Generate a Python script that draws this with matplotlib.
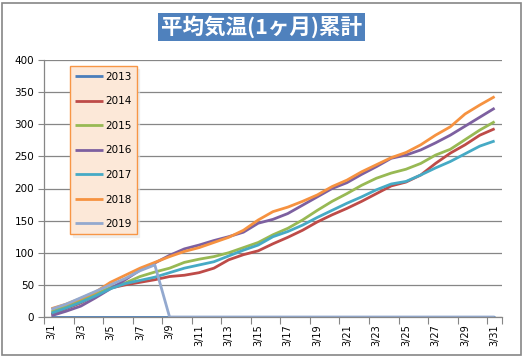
import matplotlib
matplotlib.use('Agg')
import matplotlib.pyplot as plt
from matplotlib.patches import Rectangle

plt.rcParams['font.family'] = ['DejaVu Sans', 'Noto Sans CJK JP']

days = ['3/%d' % d for d in range(1, 32)]

y2013 = [0] * 31
y2014 = [4, 13, 22, 34, 45, 50, 54, 58, 63, 65, 69, 76, 89, 97, 103, 114, 124, 135, 148,
         159, 169, 180, 192, 204, 210, 221, 239, 255, 268, 283, 293]
y2015 = [8, 17, 26, 36, 46, 53, 63, 70, 76, 85, 90, 94, 100, 108, 116, 128, 138, 151, 166,
         180, 192, 205, 216, 224, 230, 239, 252, 261, 276, 291, 304]
y2016 = [2, 9, 17, 30, 44, 58, 73, 84, 96, 106, 112, 119, 125, 132, 146, 152, 161, 174, 187,
         200, 209, 222, 234, 247, 252, 260, 271, 283, 297, 311, 325]
y2017 = [6, 14, 23, 33, 44, 52, 57, 62, 69, 76, 81, 86, 95, 104, 112, 125, 133, 143, 155,
         166, 177, 187, 198, 207, 211, 221, 232, 242, 254, 266, 274]
y2018 = [13, 20, 29, 39, 54, 65, 76, 85, 94, 102, 108, 116, 124, 135, 151, 164, 171, 180, 190,
         203, 213, 226, 237, 248, 256, 268, 283, 296, 316, 330, 343]
y2019 = [12, 20, 30, 40, 50, 60, 72, 81] + [0] * 23

series = [('2013', y2013, '#4A7EBB'), ('2014', y2014, '#BE4B48'), ('2015', y2015, '#98B954'),
          ('2016', y2016, '#7D60A0'), ('2017', y2017, '#46AAC5'), ('2018', y2018, '#F69240'),
          ('2019', y2019, '#93A9CF')]

fig = plt.figure(figsize=(5.23, 3.57), dpi=100)
ax = fig.add_axes([44 / 523, 1 - 317 / 357, 458 / 523, 257 / 357])

x = list(range(len(days)))
for name, vals, col in series:
    ax.plot(x, vals, color=col, lw=2.0, label=name, solid_capstyle='butt')

ax.set_ylim(0, 400)
ax.set_yticks(range(0, 401, 50))
ax.set_xlim(-0.5, 30.5)
ax.set_xticks(x[::2])
ax.set_xticklabels(days[::2], rotation=90, fontsize=7)
ax.set_xticks([i - 0.5 for i in x[::2]] + [30.5], minor=True)
ax.tick_params(axis='x', which='major', length=0, pad=5)
ax.tick_params(axis='x', which='minor', length=5, color='#868686', width=0.8)
ax.tick_params(axis='y', length=4, color='#868686', width=0.8, labelsize=7.5, pad=3)
ax.grid(axis='y', color='#868686', lw=0.9)
ax.set_axisbelow(True)
for s in ['top', 'right']:
    ax.spines[s].set_visible(False)
for s in ['left', 'bottom']:
    ax.spines[s].set_color('#868686')
    ax.spines[s].set_linewidth(0.9)

leg = ax.legend(loc='upper left', bbox_to_anchor=(0.057, 0.975), fontsize=7.5,
                labelspacing=1.4, handlelength=2.7, handletextpad=0.15,
                borderpad=0.5, borderaxespad=0, fancybox=False,
                shadow={'color': '#E4E4E4', 'ox': 2, 'oy': -2},
                framealpha=1, facecolor='#FCE8D8', edgecolor='#F79646')
leg.get_frame().set_linewidth(1.0)

fig.text(0.5, 1 - 27 / 357, '平均気温(1ヶ月)累計', ha='center', va='center',
         fontsize=15.5, fontweight='bold', color='white',
         family=['Noto Sans CJK JP', 'DejaVu Sans'],
         bbox=dict(boxstyle='square,pad=0.12', facecolor='#4F81BD', edgecolor='none'))

fig.patches.append(Rectangle((2 / 523, 2 / 357), 519 / 523, 352 / 357, transform=fig.transFigure,
                             fill=False, edgecolor='#868686', lw=1.2))

fig.savefig('out.png', dpi=100)
